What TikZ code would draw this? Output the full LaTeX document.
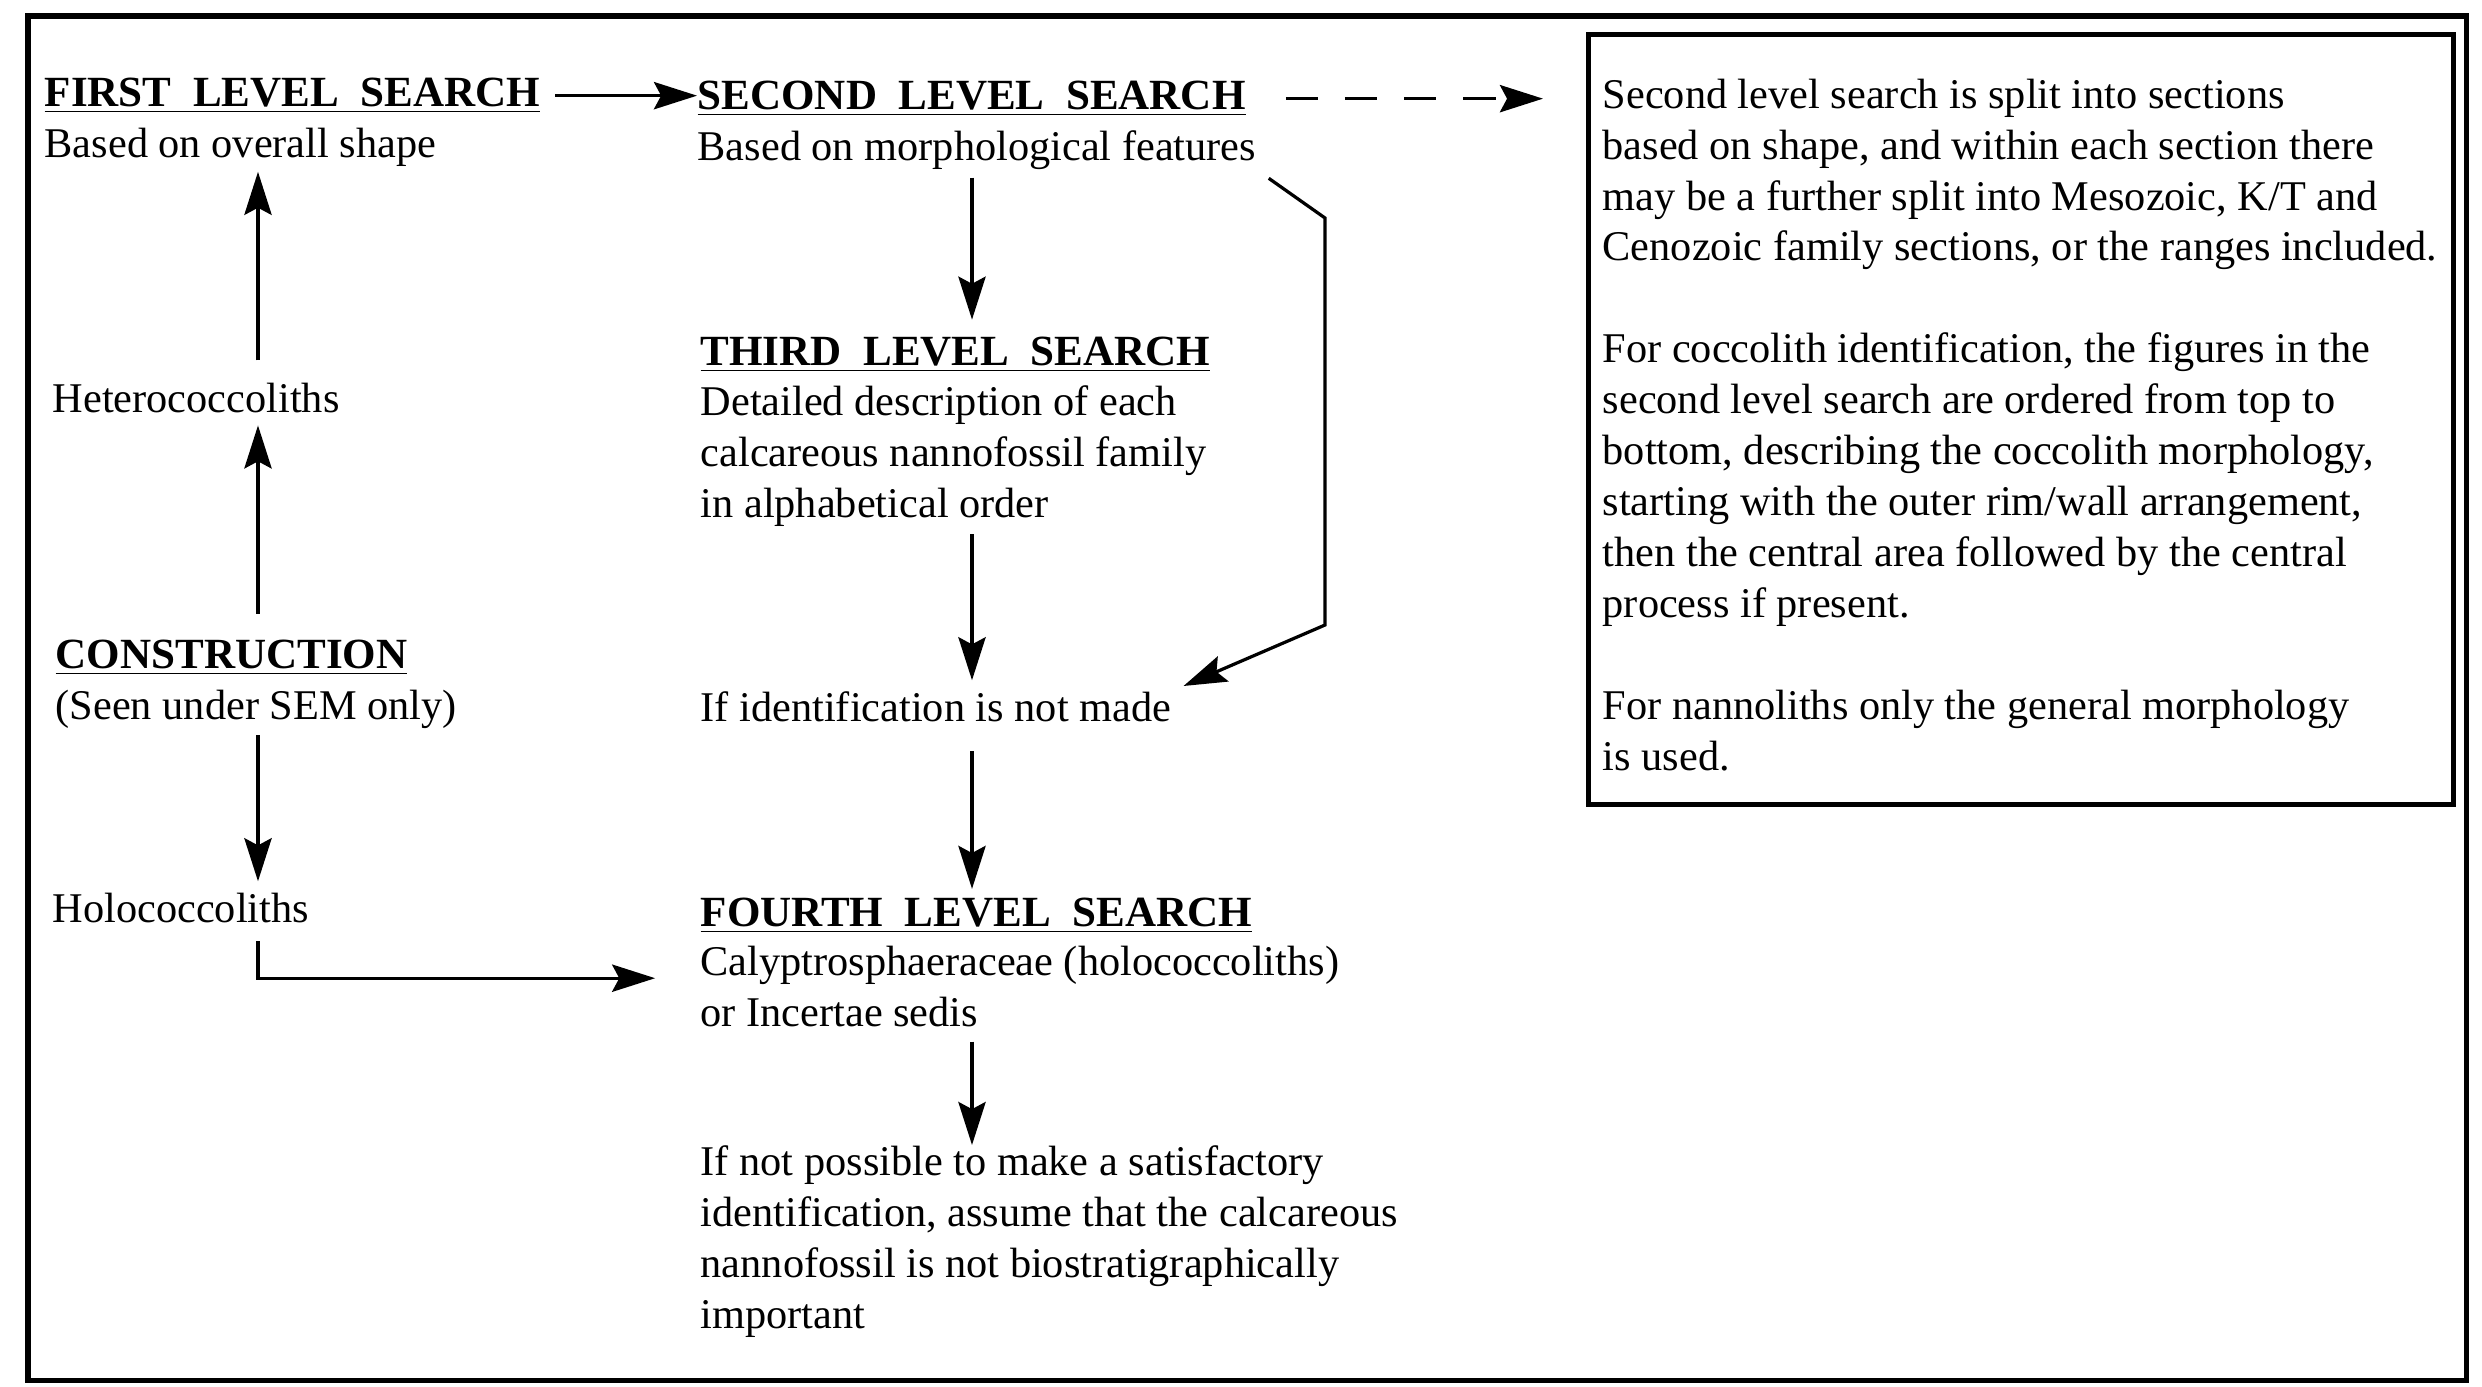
\documentclass[tikz,border=0pt]{standalone}
\usepackage{fontspec}
\setmainfont{Liberation Serif}
\usetikzlibrary{arrows.meta,positioning,calc}
\newcommand{\figfont}{\fontsize{11.8}{14.2}\selectfont}

\tikzset{
  head/.style={font=\fontsize{12}{14.2}\selectfont\bfseries, inner sep=0pt, anchor=base west},
  body/.style={font=\figfont, align=left, inner sep=0pt, anchor=north west},
  flow/.style={line width=0.9pt, -{Stealth[length=12pt,width=7.6pt,inset=2pt]}},
  frame/.style={line width=1.4pt}
}

\begin{document}
\begin{tikzpicture}[x=0.0098cm, y=-0.0098cm]
      \useasboundingbox (0,0) rectangle (2482,1386);
      \draw[frame] (28,16) rectangle (2466,1380);

      % left column
      \node[head] (first) at (44,106) {\underline{FIRST\ \ LEVEL\ \ SEARCH}};
      \node[body] (firsttxt) at (44,127) {Based on overall shape};
      \node[body] (hetero) at (52,382) {Heterococcoliths};
      \node[head] (construction) at (55,668) {\underline{CONSTRUCTION}};
      \node[body] (sem) at (55,689) {(Seen under SEM only)};
      \node[body] (holo) at (52,892) {Holococcoliths};

      % middle column
      \node[head] (second) at (697,109) {\underline{SECOND\ \ LEVEL\ \ SEARCH}};
      \node[body] (secondtxt) at (697,130) {Based on morphological features};
      \node[head] (third) at (700,365) {\underline{THIRD\ \ LEVEL\ \ SEARCH}};
      \node[body] (thirdtxt) at (700,385) {Detailed description of each\\ calcareous nannofossil family\\ in alphabetical order};
      \node[body] (ifnot) at (700,691) {If identification is not made};
      \node[head] (fourth) at (700,926) {\underline{FOURTH\ \ LEVEL\ \ SEARCH}};
      \node[body] (fourthtxt) at (700,945) {Calyptrosphaeraceae (holococcoliths)\\ or Incertae sedis};
      \node[body] (final) at (700,1145) {If not possible to make a satisfactory\\ identification, assume that the calcareous\\ nannofossil is not biostratigraphically\\ important};

      % notes box
      \node[frame, draw, anchor=north west, minimum width=8.47cm, minimum height=7.54cm, inner sep=0pt] (notes) at (1586,32) {};
      \node[body] (notestxt) at (1602,78) {Second level search is split into sections\\ based on shape, and within each section there\\ may be a further split into Mesozoic, K/T and\\ Cenozoic family sections, or the ranges included.\\[14.2pt]
        For coccolith identification, the figures in the\\ second level search are ordered from top to\\ bottom, describing the coccolith morphology,\\ starting with the outer rim/wall arrangement,\\ then the central area followed by the central\\ process if present.\\[14.2pt]
        For nannoliths only the general morphology\\ is used.};

      \coordinate (leftcol) at (258,0);
      \coordinate (midcol) at (972,0);
      \coordinate (bendtop) at (1325,218);
      \coordinate (bendbot) at (1325,625);

      \draw[flow, shorten <=4pt] (first.east) -- (first.east -| second.west);
      \draw[flow, dash pattern=on 9pt off 7.5pt, shorten <=11pt, shorten >=12pt] (second.east) -- (second.east -| notes.west);

      \draw[flow, shorten <=6pt, shorten >=1.4pt] (hetero.north -| leftcol) -- (firsttxt.south -| leftcol);
      \draw[flow, shorten <=7pt, shorten >=3.4pt] (construction.north -| leftcol) -- (hetero.south -| leftcol);
      \draw[flow, shorten <=1.7pt, shorten >=3pt] (sem.south -| leftcol) -- (holo.north -| leftcol);
      \draw[flow, shorten <=5pt, shorten >=12.5pt] (holo.south -| leftcol) |- ([yshift=2.2pt]fourthtxt.west);

      \draw[flow, shorten <=2pt, shorten >=4.5pt] (secondtxt.south -| midcol) -- (third.north -| midcol);
      \draw[flow, shorten <=2pt, shorten >=3pt] (thirdtxt.south -| midcol) -- (ifnot.north -| midcol);
      \draw[flow, shorten <=8pt, shorten >=2.2pt] (ifnot.south -| midcol) -- (fourth.north -| midcol);
      \draw[flow, shorten <=4pt] (fourthtxt.south -| midcol) -- (final.north -| midcol);
      \draw[flow] ([shift={(3.3pt,-2.2pt)}]secondtxt.south east) -- (bendtop) -- (bendbot) -- ([shift={(3.3pt,1.4pt)}]ifnot.north east);
    \end{tikzpicture}
\end{document}
